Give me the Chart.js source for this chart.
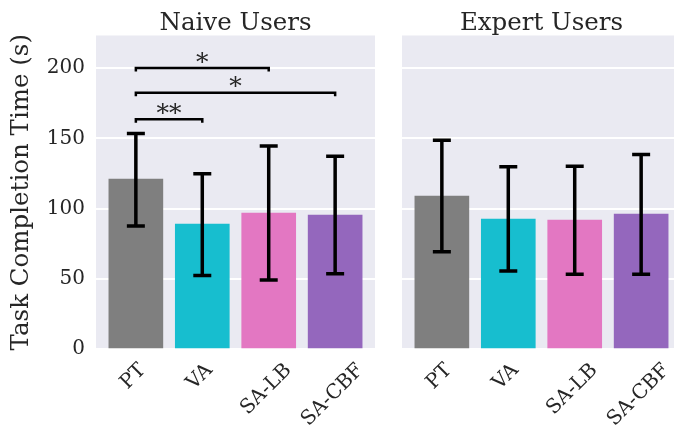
<!DOCTYPE html>
<html>
<head>
<meta charset="utf-8">
<script src="https://cdn.jsdelivr.net/npm/chart.js@4.4.1/dist/chart.umd.min.js"></script>
<style>
  html, body { margin: 0; padding: 0; background: #ffffff; }
  #wrap { position: relative; width: 674px; height: 430px; overflow: hidden; background: #ffffff; }
  canvas { position: absolute; top: 0; }
</style>
</head>
<body>
<div id="wrap">
  <canvas id="naive" width="385" height="430" style="left:0;width:385px;height:430px"></canvas>
  <canvas id="expert" width="300" height="430" style="left:385px;width:300px;height:430px"></canvas>
</div>
<script>
// Conditions shown on the x axis of both panels
const categories = ['PT', 'VA', 'SA-LB', 'SA-CBF'];
const barColors = ['#7f7f7f', '#17becf', '#e377c2', '#9467bd'];
const panelTitles = ['Naive Users', 'Expert Users'];

// Mean task completion time (s) and error bar bounds
const naiveMean = [121.0, 89.0, 96.8, 95.4];
const naiveLow  = [87.6, 52.3, 49.2, 53.5];
const naiveHigh = [153.4, 124.7, 144.6, 137.3];

const expertMean = [108.9, 92.5, 91.8, 96.1];
const expertLow  = [69.3, 55.6, 53.3, 53.3];
const expertHigh = [148.6, 129.7, 130.2, 138.5];

// Y axis
const yMax = 223.2;
const yStep = 50;

// Significance brackets (naive users): category index pairs, bracket height, marker
const sigPairs   = [[0, 2], [0, 3], [0, 1]];
const sigHeights = [200, 182.5, 163.5];
const sigLabels  = ['*', '*', '**'];

const FONT = "'DejaVu Serif', 'Liberation Serif', serif";
const INK = '#262626';
Chart.defaults.font.family = FONT;
Chart.defaults.color = INK;

const panelBackground = {
  id: 'panelBackground',
  beforeDraw(chart) {
    const { ctx, chartArea: a } = chart;
    ctx.save();
    ctx.fillStyle = '#eaeaf2';
    ctx.fillRect(a.left, a.top, a.right - a.left, a.bottom - a.top);
    ctx.restore();
  }
};

const errorBars = {
  id: 'errorBars',
  afterDatasetsDraw(chart, args, opts) {
    const { ctx, scales: { x, y } } = chart;
    ctx.save();
    ctx.strokeStyle = '#000000';
    ctx.lineWidth = 3.5;
    ctx.lineCap = 'butt';
    opts.low.forEach((lo, i) => {
      const px = x.getPixelForValue(i);
      const yLo = y.getPixelForValue(lo);
      const yHi = y.getPixelForValue(opts.high[i]);
      ctx.beginPath();
      ctx.moveTo(px, yLo); ctx.lineTo(px, yHi);
      ctx.moveTo(px - 9, yLo); ctx.lineTo(px + 9, yLo);
      ctx.moveTo(px - 9, yHi); ctx.lineTo(px + 9, yHi);
      ctx.stroke();
    });
    ctx.restore();
  }
};

// Rotated category labels, centred under each bar
const categoryLabels = {
  id: 'categoryLabels',
  afterDraw(chart) {
    const { ctx, scales: { x }, chartArea } = chart;
    const size = 20;
    ctx.save();
    ctx.font = size + 'px ' + FONT;
    ctx.fillStyle = INK;
    ctx.textAlign = 'center';
    ctx.textBaseline = 'middle';
    categories.forEach((label, i) => {
      const w = ctx.measureText(label).width;
      const cx = x.getPixelForValue(i) - 2.5;
      const cy = chartArea.bottom + 13 + (w + 0.73 * size) * 0.3536;
      ctx.save();
      ctx.translate(cx, cy);
      ctx.rotate(-Math.PI / 4);
      ctx.fillText(label, 0, 0);
      ctx.restore();
    });
    ctx.restore();
  }
};

const sigBrackets = {
  id: 'sigBrackets',
  afterDatasetsDraw(chart) {
    const { ctx, scales: { x, y } } = chart;
    ctx.save();
    ctx.strokeStyle = '#000000';
    ctx.lineWidth = 2.5;
    ctx.lineJoin = 'miter';
    ctx.fillStyle = INK;
    ctx.font = '25px ' + FONT;
    ctx.textAlign = 'center';
    ctx.textBaseline = 'alphabetic';
    sigPairs.forEach(([a, b], k) => {
      const x1 = x.getPixelForValue(a);
      const x2 = x.getPixelForValue(b);
      const yTop = y.getPixelForValue(sigHeights[k]);
      const yEnd = y.getPixelForValue(sigHeights[k] - 2.5);
      ctx.beginPath();
      ctx.moveTo(x1, yEnd); ctx.lineTo(x1, yTop); ctx.lineTo(x2, yTop); ctx.lineTo(x2, yEnd);
      ctx.stroke();
      ctx.fillText(sigLabels[k], (x1 + x2) / 2, yTop + 1.5);
    });
    ctx.restore();
  }
};

function makePanel(canvasId, title, means, lows, highs, showYAxis, extra) {
  const plugins = [panelBackground, errorBars, categoryLabels].concat(extra);
  return new Chart(document.getElementById(canvasId), {
    type: 'bar',
    data: {
      datasets: [{
        data: means.map((v, i) => ({ x: i, y: v })),
        backgroundColor: barColors,
        borderWidth: 0,
        barThickness: 54
      }]
    },
    plugins,
    options: {
      responsive: false,
      animation: false,
      devicePixelRatio: 1,
      layout: { padding: { left: 0, right: showYAxis ? 10 : 4, top: 0, bottom: 0 } },
      plugins: {
        legend: { display: false },
        tooltip: { enabled: false },
        title: {
          display: true,
          text: title,
          fullSize: false,
          color: INK,
          font: { size: 24.5, weight: 'normal', lineHeight: 1 },
          padding: { top: 11, bottom: 0 }
        },
        errorBars: { low: lows, high: highs }
      },
      scales: {
        x: {
          type: 'linear',
          min: -0.6,
          max: 3.6,
          offset: false,
          afterFit(s) { s.height = 81; },
          ticks: { display: false },
          grid: { display: false },
          border: { display: false }
        },
        y: {
          min: 0,
          max: yMax,
          afterFit(s) { s.width = showYAxis ? 96 : 17; },
          ticks: {
            display: showYAxis,
            stepSize: yStep,
            includeBounds: false,
            padding: 11,
            color: INK,
            font: { size: 20 }
          },
          grid: { color: '#ffffff', lineWidth: 2, drawTicks: false },
          border: { display: false },
          title: {
            display: showYAxis,
            text: 'Task Completion Time (s)',
            color: INK,
            font: { size: 24.5 },
            padding: { top: 7, bottom: 0 }
          }
        }
      }
    }
  });
}

makePanel('naive', panelTitles[0], naiveMean, naiveLow, naiveHigh, true, [sigBrackets]);
makePanel('expert', panelTitles[1], expertMean, expertLow, expertHigh, false, []);
</script>
</body>
</html>
